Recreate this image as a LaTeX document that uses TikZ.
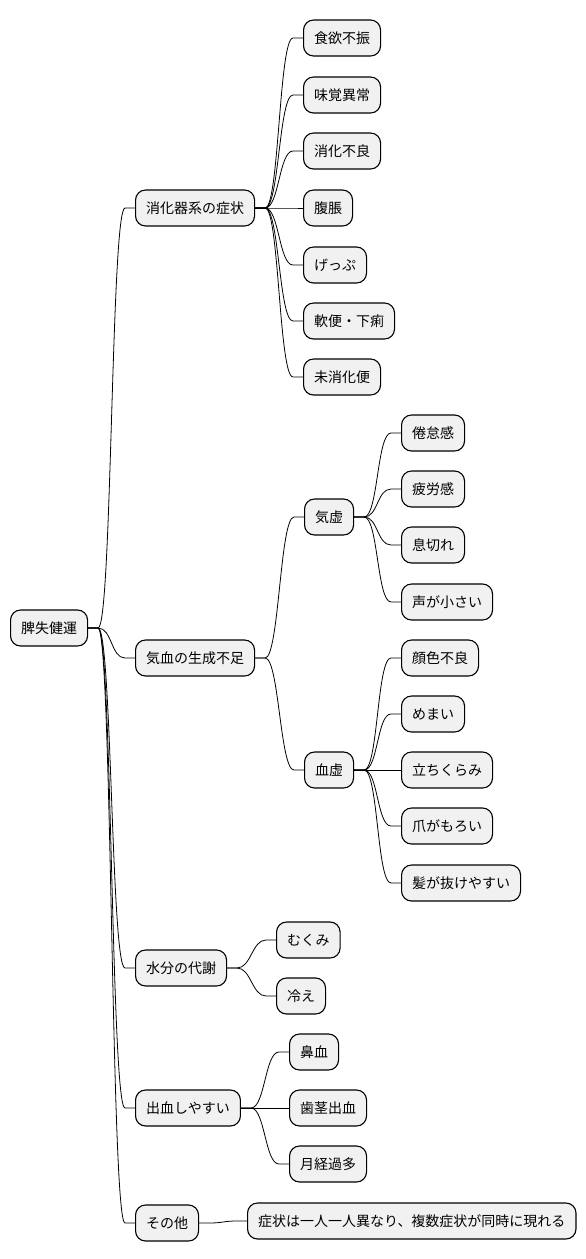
\documentclass[tikz,border=0pt]{standalone}
\usepackage{fontspec}
\setmainfont{Noto Sans CJK JP}
\usepackage{tikz}

\definecolor{boxfill}{HTML}{F1F1F1}
\tikzset{
  topic/.style={draw, line width=1.1pt, fill=boxfill, rounded corners=10pt,
    minimum height=36pt, inner xsep=10.5pt, anchor=west,
    font=\fontsize{14}{16}\selectfont},
  link/.style={line width=0.8pt}
}

\begin{document}
\begin{tikzpicture}[x=1pt,y=-1pt]
  \useasboundingbox (0,0) rectangle (586,1259);

  % root
  \node[topic] (root) at (10,628) {脾失健運};

  % first level
  \node[topic] (digest) at (135,208) {消化器系の症状};
  \node[topic] (qiblood) at (135,658) {気血の生成不足};
  \node[topic] (water) at (135,968) {水分の代謝};
  \node[topic] (bleed) at (135,1108) {出血しやすい};
  \node[topic] (other) at (135,1223) {その他};

  % digestive symptoms
  \node[topic] (appetite) at (303,38) {食欲不振};
  \node[topic] (taste) at (303,95) {味覚異常};
  \node[topic] (indigest) at (303,151) {消化不良};
  \node[topic] (bloat) at (303,208) {腹脹};
  \node[topic] (burp) at (303,265) {げっぷ};
  \node[topic] (stool) at (303,321) {軟便・下痢};
  \node[topic] (undigest) at (303,377) {未消化便};

  % qi and blood
  \node[topic] (qixu) at (304,517) {気虚};
  \node[topic] (xuexu) at (304,770) {血虚};

  \node[topic] (fatigue) at (401,433) {倦怠感};
  \node[topic] (tired) at (401,489) {疲労感};
  \node[topic] (breath) at (401,545) {息切れ};
  \node[topic] (voice) at (401,602) {声が小さい};

  \node[topic] (pale) at (401,658) {顔色不良};
  \node[topic] (dizzy) at (401,714) {めまい};
  \node[topic] (faint) at (401,770) {立ちくらみ};
  \node[topic] (nail) at (401,826) {爪がもろい};
  \node[topic] (hair) at (401,883) {髪が抜けやすい};

  % water
  \node[topic] (edema) at (276,940) {むくみ};
  \node[topic] (cold) at (276,996) {冷え};

  % bleeding
  \node[topic] (nose) at (289,1052) {鼻血};
  \node[topic] (gum) at (289,1108) {歯茎出血};
  \node[topic] (mens) at (289,1164) {月経過多};

  % other
  \node[topic] (note) at (247,1221) {症状は一人一人異なり、複数症状が同時に現れる};

  % connectors
  \foreach \a/\b in {root/digest, root/qiblood, root/water, root/bleed, root/other,
      digest/appetite, digest/taste, digest/indigest, digest/bloat,
      digest/burp, digest/stool, digest/undigest,
      qiblood/qixu, qiblood/xuexu,
      qixu/fatigue, qixu/tired, qixu/breath, qixu/voice,
      xuexu/pale, xuexu/dizzy, xuexu/faint, xuexu/nail, xuexu/hair,
      water/edema, water/cold,
      bleed/nose, bleed/gum, bleed/mens,
      other/note}
    \draw[link] (\a.east) -- ++(10,0) .. controls +(14,0) and +(-14,0) .. ([xshift=-10pt]\b.west) -- (\b.west);
\end{tikzpicture}
\end{document}
